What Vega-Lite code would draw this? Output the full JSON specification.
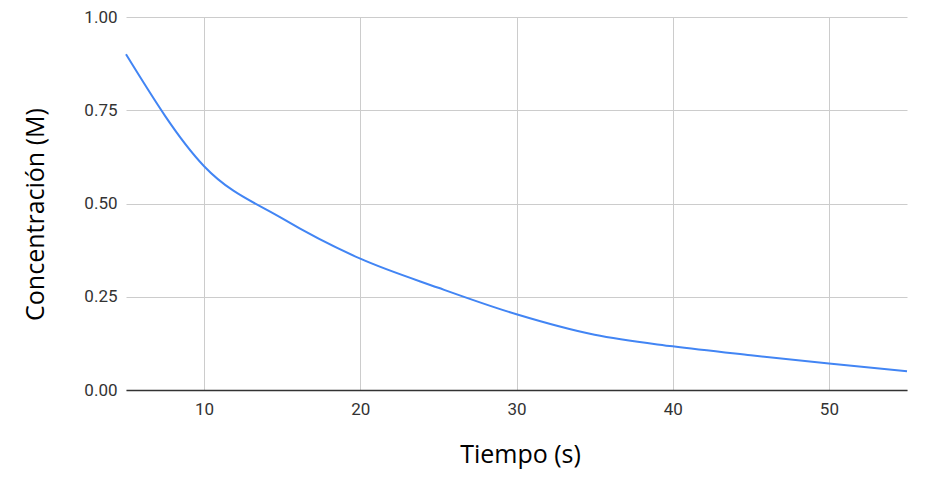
{
  "$schema": "https://vega.github.io/schema/vega-lite/v6.json",
  "width": 781,
  "height": 373,
  "autosize": {"type": "none"},
  "padding": {"left": 126, "top": 17, "right": 30, "bottom": 111},
  "background": "white",
  "config": {"view": {"stroke": null}},
  "data": {
    "values": [
      {"t": 5, "c": 0.9},
      {"t": 10, "c": 0.6},
      {"t": 15, "c": 0.46},
      {"t": 20, "c": 0.352},
      {"t": 25, "c": 0.274},
      {"t": 30, "c": 0.203},
      {"t": 35, "c": 0.148},
      {"t": 40, "c": 0.117},
      {"t": 45, "c": 0.093},
      {"t": 50, "c": 0.071},
      {"t": 55, "c": 0.05}
    ]
  },
  "mark": {"type": "line", "color": "#4285F4", "strokeWidth": 2, "interpolate": "monotone"},
  "encoding": {
    "x": {
      "field": "t",
      "type": "quantitative",
      "scale": {"domain": [5, 55], "nice": false, "zero": false},
      "axis": {
        "title": "Tiempo (s)",
        "values": [10, 20, 30, 40, 50],
        "grid": true,
        "gridColor": "#cccccc",
        "gridWidth": 1,
        "ticks": false,
        "domain": true,
        "domainColor": "#333333",
        "domainWidth": 1.5,
        "labelFont": "Roboto",
        "labelFontSize": 17,
        "labelColor": "#333333",
        "labelBaseline": "middle",
        "labelPadding": 19,
        "titleFont": "Open Sans",
        "titleFontSize": 25,
        "titleFontWeight": "normal",
        "titleColor": "#000000",
        "titleBaseline": "middle",
        "titleX": 394,
        "titleY": 64
      }
    },
    "y": {
      "field": "c",
      "type": "quantitative",
      "scale": {"domain": [0, 1], "nice": false},
      "axis": {
        "title": "Concentración (M)",
        "values": [0, 0.25, 0.5, 0.75, 1],
        "format": ".2f",
        "grid": true,
        "gridColor": "#cccccc",
        "gridWidth": 1,
        "ticks": false,
        "domain": false,
        "labelFont": "Roboto",
        "labelFontSize": 17,
        "labelColor": "#333333",
        "labelPadding": 9,
        "titleFont": "Open Sans",
        "titleFontSize": 25,
        "titleFontWeight": "normal",
        "titleColor": "#000000",
        "titleAngle": -90,
        "titleBaseline": "middle",
        "titleAlign": "center",
        "titleX": -91,
        "titleY": 197
      }
    }
  }
}
